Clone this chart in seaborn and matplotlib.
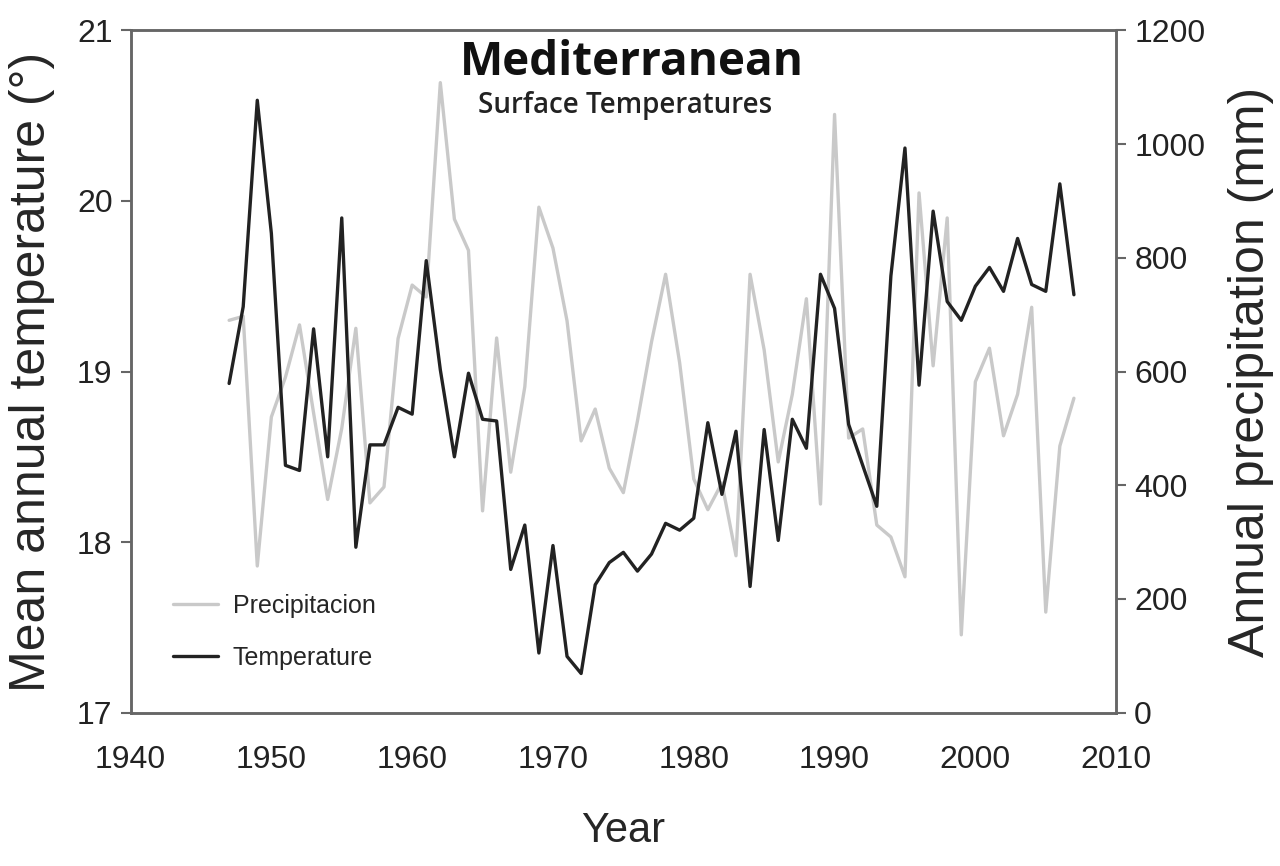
import numpy as np
import pandas as pd
import matplotlib
matplotlib.use("Agg")
import matplotlib.pyplot as plt
import seaborn as sns

# annual series, 1947-2007
years = list(range(1947, 2008))
temperature = [18.93, 19.38, 20.59, 19.81, 18.45, 18.42, 19.25, 18.50, 19.90, 17.97,
               18.57, 18.57, 18.79, 18.75, 19.65, 19.01, 18.50, 18.99, 18.72, 18.71,
               17.84, 18.10, 17.35, 17.98, 17.33, 17.23, 17.75, 17.88, 17.94, 17.83,
               17.93, 18.11, 18.07, 18.14, 18.70, 18.28, 18.65, 17.74, 18.66, 18.01,
               18.72, 18.55, 19.57, 19.37, 18.69, 18.45, 18.21, 19.56, 20.31, 18.92,
               19.94, 19.41, 19.30, 19.50, 19.61, 19.47, 19.78, 19.51, 19.47, 20.10,
               19.45]
precipitation = [690, 697, 258, 520, 590, 682, 527, 375, 500, 676,
                 369, 397, 658, 752, 731, 1108, 868, 813, 355, 659,
                 423, 573, 889, 817, 689, 478, 534, 430, 387, 513,
                 652, 771, 615, 411, 357, 404, 276, 771, 638, 441,
                 560, 728, 367, 1052, 483, 499, 330, 309, 239, 914,
                 610, 870, 137, 582, 641, 487, 560, 713, 177, 469,
                 553]

x_ticks = [1940, 1950, 1960, 1970, 1980, 1990, 2000, 2010]
temp_ticks = [17, 18, 19, 20, 21]
prec_ticks = [0, 200, 400, 600, 800, 1000, 1200]

df = pd.DataFrame({"Year": years, "Temperature": temperature, "Precipitacion": precipitation})

sns.set_style("white")
plt.rcParams["font.family"] = ["Liberation Sans", "DejaVu Sans"]

fig = plt.figure(figsize=(12.8, 8.66), dpi=100)
ax = fig.add_axes([0.102, 0.177, 0.770, 0.788])
ax2 = ax.twinx()

sns.lineplot(data=df, x="Year", y="Precipitacion", ax=ax2, color="#c9c9c9", lw=2.4,
             label="Precipitacion", legend=False)
sns.lineplot(data=df, x="Year", y="Temperature", ax=ax, color="#222222", lw=2.4,
             label="Temperature", legend=False)

# temperature line drawn on top of the precipitation line
ax.set_zorder(ax2.get_zorder() + 1)
ax.patch.set_visible(False)

ax.set_xlim(1940, 2010)
ax.set_ylim(17, 21)
ax2.set_ylim(0, 1200)
ax.set_xticks(x_ticks)
ax.set_yticks(temp_ticks)
ax2.set_yticks(prec_ticks)

ax.set_xlabel("Year", fontsize=30, labelpad=26)
ax.set_ylabel("Mean annual temperature (°)", fontsize=36, labelpad=16)
ax2.set_ylabel("Annual precipitation (mm)", fontsize=36, labelpad=16)

for a in (ax, ax2):
    a.tick_params(axis="both", labelsize=23, length=7, width=1.5, color="#666666",
                  direction="out", pad=6, labelcolor="#222222")
    for s in a.spines.values():
        s.set_color("#666666")
        s.set_linewidth(1.8)
ax.tick_params(axis="x", pad=16)

ax.text(0.509, 0.953, "Mediterranean", transform=ax.transAxes, ha="center", va="center",
        fontsize=33, fontweight="bold", family=["Open Sans", "DejaVu Sans"], color="#111111")
ax.text(0.502, 0.89, "Surface Temperatures", transform=ax.transAxes, ha="center", va="center",
        fontsize=20, fontweight="semibold", family=["Open Sans", "DejaVu Sans"], color="#222222")

h1, l1 = ax2.get_legend_handles_labels()
h2, l2 = ax.get_legend_handles_labels()
ax.legend(h1 + h2, l1 + l2, loc="lower left", bbox_to_anchor=(0.02, 0.03), frameon=False,
          fontsize=18, handlelength=1.8, labelspacing=1.1, handletextpad=0.6)

fig.savefig("out.png", dpi=100)
